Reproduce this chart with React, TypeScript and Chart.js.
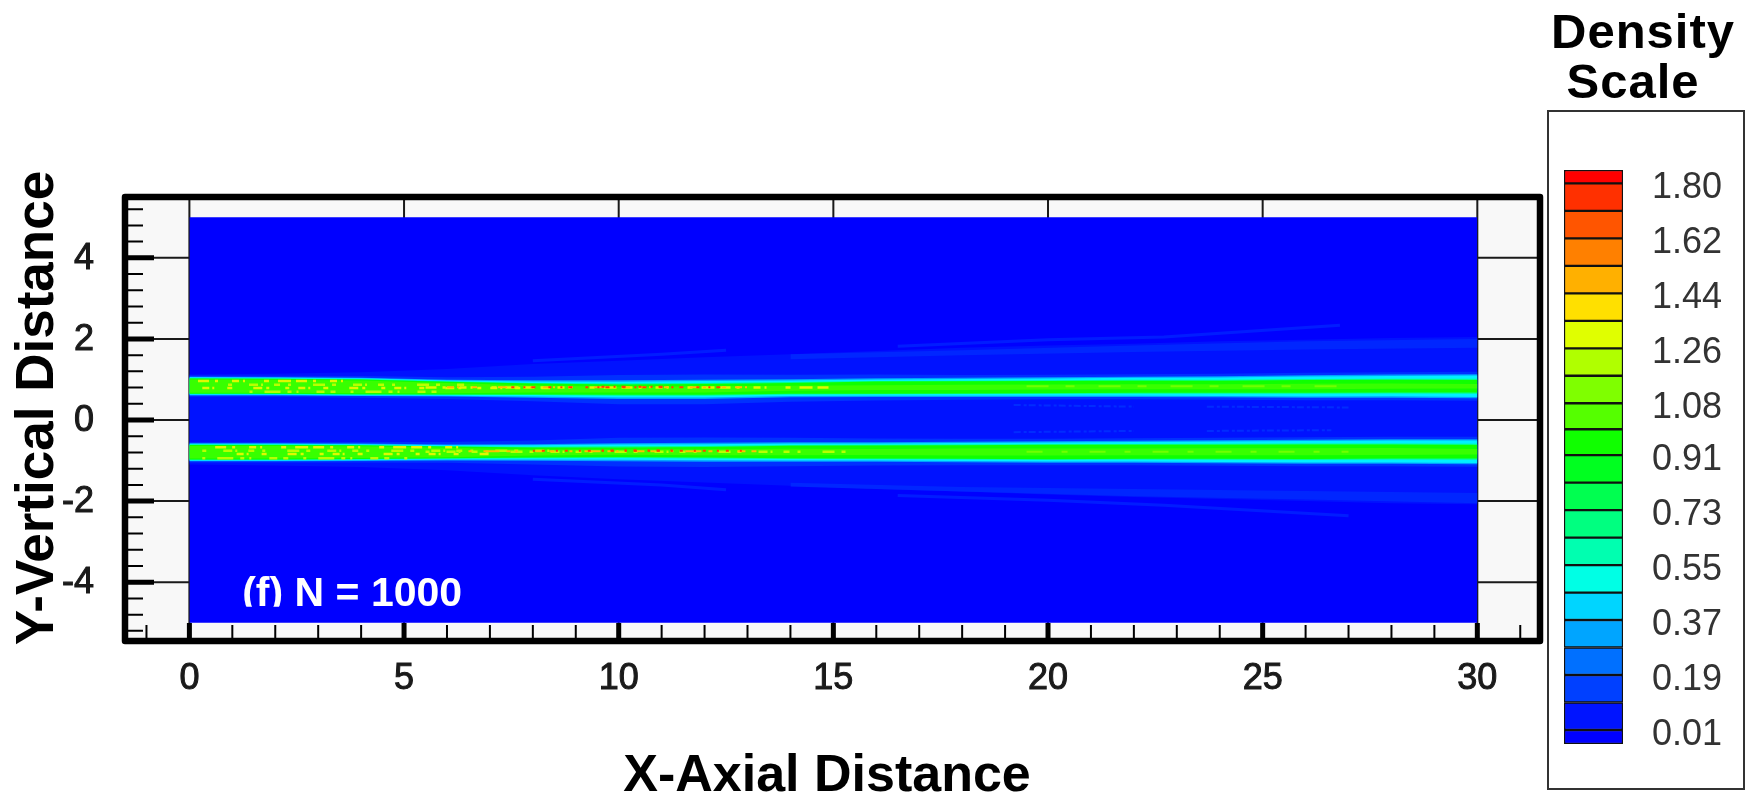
import React, { useEffect, useRef } from "react";
import { Chart, registerables } from "chart.js";

Chart.register(...registerables);

// ---------- data ----------
const xMajorTicks = [0, 5, 10, 15, 20, 25, 30];
const xMinorTicks = [-1, 1, 2, 3, 4, 6, 7, 8, 9, 11, 12, 13, 14, 16, 17, 18, 19, 21, 22, 23, 24, 26, 27, 28, 29, 31];
const yMajorTicks = [-4, -2, 0, 2, 4];
const yMinorTicks = [5.2, 4.8, 4.4, 3.6, 3.2, 2.8, 2.4, 1.6, 1.2, 0.8, 0.4, -0.4, -0.8, -1.2, -1.6, -2.4, -2.8, -3.2, -3.6, -4.4, -4.8, -5.2];

const stations = [0, 2, 4, 6, 8, 10, 12, 14, 16, 18, 20, 22, 24, 26, 28, 30];

const upperBandTop = [1.06, 1.05, 1.035, 0.985, 0.96, 0.96, 0.975, 0.985, 1.01, 1.02, 1.035, 1.05, 1.06, 1.085, 1.1, 1.11];
const upperBandBottom = [0.615, 0.615, 0.6, 0.59, 0.57, 0.54, 0.54, 0.58, 0.59, 0.59, 0.59, 0.59, 0.58, 0.57, 0.57, 0.555];
const lowerBandTop = [-0.58, -0.58, -0.59, -0.615, -0.615, -0.59, -0.58, -0.567, -0.567, -0.555, -0.543, -0.53, -0.518, -0.505, -0.493, -0.493];
const lowerBandBottom = [-1.01, -1.01, -0.998, -0.986, -0.986, -0.998, -1.01, -1.01, -1.01, -1.023, -1.036, -1.036, -1.048, -1.06, -1.06, -1.073];

const insetNear = [-0.04, -0.04, -0.05, -0.07, -0.11, -0.15, -0.15, -0.13, -0.11, -0.09, -0.08, -0.08, -0.08, -0.08, -0.08, -0.08];
const insetEdge = [-0.01, -0.01, -0.01, -0.01, -0.02, -0.02, -0.02, -0.02, -0.02, -0.02, -0.02, -0.02, -0.02, -0.02, -0.02, -0.02];
const insetCyan = [0.005, 0.005, 0.005, 0.01, 0.01, 0.015, 0.015, 0.01, 0.01, 0.01, 0.01, 0.01, 0.01, 0.01, 0.015, 0.015];
const insetMint = [0.025, 0.025, 0.025, 0.03, 0.045, 0.06, 0.06, 0.05, 0.045, 0.05, 0.055, 0.06, 0.065, 0.075, 0.085, 0.095];
const insetGreen = [0.035, 0.035, 0.035, 0.04, 0.06, 0.085, 0.085, 0.07, 0.06, 0.065, 0.07, 0.08, 0.09, 0.1, 0.11, 0.125];
const insetLime = [0.06, 0.06, 0.06, 0.07, 0.11, 0.14, 0.14, 0.14, 0.15, 0.15, 0.16, 0.17, 0.18, 0.19, 0.2, 0.22];

const haloTop = [1.12, 1.14, 1.18, 1.26, 1.38, 1.46, 1.55, 1.62, 1.7, 1.78, 1.84, 1.88, 1.94, 1.98, 2.02, 2.05];
const haloBottom = [-1.1, -1.12, -1.16, -1.24, -1.36, -1.46, -1.54, -1.62, -1.7, -1.76, -1.84, -1.9, -1.95, -2.0, -2.05, -2.08];

const stripStations = [14, 18, 22, 26, 30];
const upperStripTop = [1.62, 1.72, 1.84, 1.94, 2.0];
const upperStripBottom = [1.5, 1.6, 1.68, 1.74, 1.78];
const lowerStripTop = [-1.55, -1.65, -1.7, -1.75, -1.8];
const lowerStripBottom = [-1.64, -1.76, -1.88, -1.96, -2.05];

const streakA = [{ x: 16.5, y: 1.82 }, { x: 20, y: 1.98 }, { x: 22.7, y: 2.05 }, { x: 26.8, y: 2.34 }];
const streakB = [{ x: 8, y: 1.46 }, { x: 11, y: 1.62 }, { x: 12.5, y: 1.72 }];
const streakC = [{ x: 16.5, y: -1.86 }, { x: 20, y: -1.98 }, { x: 22.7, y: -2.1 }, { x: 27, y: -2.36 }];
const streakD = [{ x: 8, y: -1.46 }, { x: 11, y: -1.6 }, { x: 12.5, y: -1.72 }];
const streakE = [{ x: 19.2, y: 0.37 }, { x: 22, y: 0.33 }];
const streakF = [{ x: 23.7, y: 0.33 }, { x: 27, y: 0.31 }];
const streakG = [{ x: 19.2, y: -0.3 }, { x: 22, y: -0.27 }];
const streakH = [{ x: 23.7, y: -0.27 }, { x: 26.6, y: -0.25 }];

// speckle rows inside the jets: [x start, x end, y]
const yellowRows = [
  [0.2, 3.9, 0.96], [0.9, 6.4, 0.87], [0.3, 8.5, 0.79], [1.4, 5.8, 0.7],
  [0.6, 6.5, -0.67], [0.3, 8.5, -0.76], [1.1, 7, -0.84], [0.3, 5.2, -0.94],
  [5.5, 15, 0.8], [5.5, 15.5, -0.78],
];
const orangeRows = [
  [6, 13, 0.81], [6.5, 13.5, -0.77],
];
const redRows = [
  [7.5, 12.6, 0.805], [8, 13, -0.76], [9.6, 11.2, 0.82], [9.6, 11.4, -0.75],
];
const limeCoreRows = [
  [19.5, 27, 0.83], [19.5, 27, -0.78],
];
const speckleDashes = [
  [11, 6, 3, 14, 7, 4, 2, 19, 5, 9, 13, 5],
  [4, 17, 9, 3, 2, 11, 6, 8, 3, 22, 12, 7],
  [7, 3, 2, 13, 5, 21, 9, 4, 3, 16, 4, 9],
  [3, 12, 16, 7, 4, 5, 2, 18, 8, 6, 5, 15],
];

const densityLevels = [-0.036, 0.01, 0.1, 0.19, 0.28, 0.37, 0.46, 0.55, 0.64, 0.73, 0.82, 0.91, 0.995, 1.08, 1.17, 1.26, 1.35, 1.44, 1.53, 1.62, 1.71, 1.8, 1.844];
const densityColors = [
  "#0000ff", "#0014ff", "#0040ff", "#0070ff", "#00a5ff", "#00d5ff", "#00ffe5", "#00ffb0", "#00ff80", "#00ff50", "#00ff20",
  "#10ff00", "#55ff00", "#7fff00", "#b0ff00", "#e0ff00", "#ffe000", "#ffb000", "#ff8000", "#ff5500", "#ff3000", "#ff0000",
];
const densityTicks = [0.01, 0.19, 0.37, 0.55, 0.73, 0.91, 1.08, 1.26, 1.44, 1.62, 1.8];

// ---------- styling ----------
const SANS = '"Liberation Sans", Arial, sans-serif';

function buildDatasets() {
  const ds: any[] = [];
  let order = 5000;
  const base = { borderWidth: 0, pointRadius: 0, tension: 0 };
  const layer = (xs: number[], top: number[], bottom: number[], color: string) => {
    order -= 1;
    ds.push({ ...base, data: xs.map((x, i) => ({ x, y: top[i] })), fill: "+1", backgroundColor: color, order });
    ds.push({ ...base, data: xs.map((x, i) => ({ x, y: bottom[i] })), fill: false, order });
  };
  const line = (pts: { x: number; y: number }[], color: string, width: number, dash: number[] = []) => {
    order -= 1;
    ds.push({ ...base, data: pts, fill: false, borderColor: color, borderWidth: width, borderDash: dash, order });
  };

  layer([0, 30], [5, 5], [-5, -5], "#0000ff");
  layer(stations, haloTop, haloBottom, "#0012ff");
  layer(stripStations, upperStripTop, upperStripBottom, "#0026ff");
  layer(stripStations, lowerStripTop, lowerStripBottom, "#0026ff");
  [streakA, streakB, streakC, streakD].forEach((s) => line(s, "#001cff", 3));
  [streakE, streakF, streakG, streakH].forEach((s) => line(s, "#002cff", 2, [7, 3, 3, 2]));

  const levels: [number[], string][] = [
    [insetNear, "#0030ff"],
    [insetEdge, "#00a0ff"],
    [insetCyan, "#00f0ff"],
    [insetMint, "#00ff90"],
    [insetGreen, "#10ff00"],
    [insetLime, "#38ff00"],
  ];
  levels.forEach(([inset, color]) => {
    layer(stations, upperBandTop.map((v, i) => v - inset[i]), upperBandBottom.map((v, i) => v + inset[i]), color);
    layer(stations, lowerBandTop.map((v, i) => v - inset[i]), lowerBandBottom.map((v, i) => v + inset[i]), color);
  });

  const row = (r: number[]) => [{ x: r[0], y: r[2] }, { x: r[1], y: r[2] }];
  limeCoreRows.forEach((r, i) => line(row(r), "#70ff00", 2, i % 2 ? [16, 19, 6, 22] : [22, 17, 9, 24]));
  yellowRows.forEach((r, i) => line(row(r), i % 2 ? "#b8ff00" : "#e0f800", 2.5, speckleDashes[i % 4]));
  orangeRows.forEach((r, i) => line(row(r), "#ffc000", 2, speckleDashes[(i + 2) % 4]));
  redRows.forEach((r, i) => line(row(r), "#ff4000", 2, i % 2 ? [2, 7, 3, 11] : [3, 9, 2, 6, 4, 13]));
  return ds;
}

const framePlugin = {
  id: "frame",
  beforeDatasetsDraw(chart: any) {
    const { ctx, chartArea: a, scales } = chart;
    ctx.save();
    ctx.fillStyle = "#f8f8f8";
    ctx.fillRect(a.left, a.top, a.right - a.left, a.bottom - a.top);
    ctx.strokeStyle = "#1a1a1a";
    ctx.lineWidth = 2;
    ctx.beginPath();
    xMajorTicks.forEach((v) => {
      const p = scales.x.getPixelForValue(v);
      ctx.moveTo(p, a.top);
      ctx.lineTo(p, a.bottom);
    });
    yMajorTicks.forEach((v) => {
      const p = scales.y.getPixelForValue(v);
      ctx.moveTo(a.left, p);
      ctx.lineTo(a.right, p);
    });
    ctx.stroke();
    ctx.restore();
  },
  afterDatasetsDraw(chart: any) {
    const { ctx, chartArea: a, scales } = chart;
    ctx.save();
    ctx.strokeStyle = "#000";
    ctx.lineWidth = 2;
    ctx.beginPath();
    xMinorTicks.forEach((v) => {
      const p = scales.x.getPixelForValue(v);
      ctx.moveTo(p, a.bottom);
      ctx.lineTo(p, a.bottom - 16);
    });
    yMinorTicks.forEach((v) => {
      const p = scales.y.getPixelForValue(v);
      ctx.moveTo(a.left, p);
      ctx.lineTo(a.left + 18, p);
    });
    ctx.stroke();
    ctx.lineWidth = 5;
    ctx.beginPath();
    xMajorTicks.forEach((v) => {
      const p = scales.x.getPixelForValue(v);
      ctx.moveTo(p, a.bottom);
      ctx.lineTo(p, a.bottom - 18);
    });
    yMajorTicks.forEach((v) => {
      const p = scales.y.getPixelForValue(v);
      ctx.moveTo(a.left, p);
      ctx.lineTo(a.left + 29, p);
    });
    ctx.stroke();
    ctx.lineWidth = 6.5;
    ctx.lineJoin = "round";
    ctx.strokeRect(a.left, a.top, a.right - a.left, a.bottom - a.top);

    // jet-case tag, cut off along its baseline as in the source image
    const tagX = scales.x.getPixelForValue(1.23);
    const tagBase = scales.y.getPixelForValue(-4.58);
    ctx.beginPath();
    ctx.rect(tagX - 10, tagBase - 50, 260, 51);
    ctx.clip();
    ctx.fillStyle = "#fff";
    ctx.font = `bold 41px ${SANS}`;
    ctx.textBaseline = "alphabetic";
    ctx.textAlign = "left";
    ctx.fillText("(f) N = 1000", tagX, tagBase);
    ctx.restore();

    ctx.save();
    ctx.fillStyle = "#000";
    ctx.textAlign = "center";
    ctx.textBaseline = "middle";
    ctx.font = `bold 52px ${SANS}`;
    ctx.fillText("X-Axial Distance", 827, 777);
    ctx.translate(38, 408);
    ctx.rotate(-Math.PI / 2);
    ctx.font = `bold 53px ${SANS}`;
    ctx.fillText("Y-Vertical Distance", 0, 0);
    ctx.restore();
  },
};

const legendTitlePlugin = {
  id: "legendTitle",
  afterDraw(chart: any) {
    const { ctx } = chart;
    ctx.save();
    ctx.fillStyle = "#000";
    ctx.textAlign = "center";
    ctx.textBaseline = "alphabetic";
    ctx.font = `bold 49px ${SANS}`;
    ctx.letterSpacing = "1px";
    ctx.fillText("Density", 111, 48);
    ctx.fillText("Scale", 101, 98);
    ctx.restore();
  },
};

export default function App() {
  const mainRef = useRef<HTMLCanvasElement>(null);
  const barRef = useRef<HTMLCanvasElement>(null);

  useEffect(() => {
    const main = new Chart(mainRef.current as HTMLCanvasElement, {
      type: "line",
      data: { datasets: buildDatasets() },
      plugins: [framePlugin],
      options: {
        animation: false,
        responsive: false,
        layout: { padding: { top: 197, right: 214, left: 0, bottom: 0 } },
        plugins: { legend: { display: false }, tooltip: { enabled: false } },
        scales: {
          x: {
            type: "linear",
            min: -1.5,
            max: 31.46,
            grid: { display: false },
            border: { display: false },
            afterBuildTicks: (s: any) => { s.ticks = xMajorTicks.map((value) => ({ value })); },
            afterFit: (s: any) => { s.height = 157; },
            ticks: { color: "#1a1a1a", font: { family: SANS, size: 36 }, padding: 8, maxRotation: 0, autoSkip: false, textStrokeColor: "#1a1a1a", textStrokeWidth: 1 },
          },
          y: {
            type: "linear",
            min: -5.45,
            max: 5.5,
            grid: { display: false },
            border: { display: false },
            afterBuildTicks: (s: any) => { s.ticks = yMajorTicks.map((value) => ({ value })); },
            afterFit: (s: any) => { s.width = 125; },
            ticks: { color: "#1a1a1a", font: { family: SANS, size: 36 }, padding: 23, labelOffset: 1, autoSkip: false, textStrokeColor: "#1a1a1a", textStrokeWidth: 1 },
          },
        },
      },
    } as any);

    const bar = new Chart(barRef.current as HTMLCanvasElement, {
      type: "bar",
      data: {
        labels: ["density"],
        datasets: densityColors.map((c, i) => ({
          data: [[densityLevels[i], densityLevels[i + 1]]],
          backgroundColor: c,
          borderColor: "#111",
          borderWidth: 1.5,
          borderSkipped: false,
          grouped: false,
          barPercentage: 1,
          categoryPercentage: 1,
          yAxisID: "y",
        })),
      },
      plugins: [legendTitlePlugin],
      options: {
        animation: false,
        responsive: false,
        layout: { padding: { left: 0, bottom: 54, top: 170, right: 0 } },
        plugins: {
          legend: { display: false },
          tooltip: { enabled: false },
        },
        scales: {
          x: { display: false },
          gutter: {
            position: "left",
            display: true,
            grid: { display: false },
            border: { display: false },
            ticks: { display: false },
            afterFit: (s: any) => { s.width = 32; },
          },
          y: {
            position: "right",
            min: -0.036,
            max: 1.844,
            grid: { display: false },
            border: { display: false },
            afterBuildTicks: (s: any) => { s.ticks = densityTicks.map((value) => ({ value })); },
            afterFit: (s: any) => { s.width = 131; },
            ticks: {
              color: "#333",
              font: { family: SANS, size: 36 },
              padding: 21,
              labelOffset: 5,
              autoSkip: false,
              callback: (v: any) => Number(v).toFixed(2),
            },
          },
        },
      },
    } as any);

    return () => {
      main.destroy();
      bar.destroy();
    };
  }, []);

  return (
    <div style={{ position: "absolute", left: 0, top: 0, width: 1754, height: 798, background: "#fff", overflow: "hidden" }}>
      <canvas ref={mainRef} width={1754} height={798} style={{ position: "absolute", left: 0, top: 0, width: 1754, height: 798, filter: "blur(0.6px)" }} />
      <div style={{ position: "absolute", left: 1547, top: 110, width: 194, height: 676, border: "2px solid #333" }} />
      <canvas ref={barRef} width={222} height={798} style={{ position: "absolute", left: 1532, top: 0, width: 222, height: 798, filter: "blur(0.4px)" }} />
    </div>
  );
}
